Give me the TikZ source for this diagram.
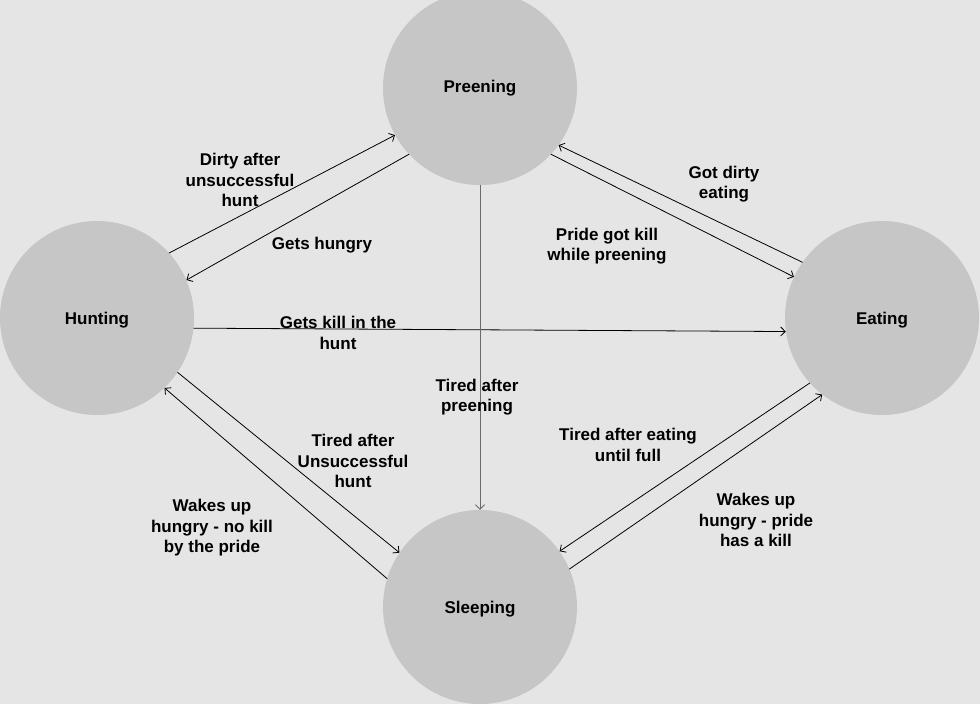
\documentclass[tikz,border=0pt]{standalone}
\usepackage{fontspec}
\setmainfont{Liberation Sans}
\usepackage{xcolor}
\usetikzlibrary{arrows.meta}
\definecolor{back_grey}{HTML}{E5E5E5}
\definecolor{state_grey}{HTML}{C6C6C6}
\definecolor{line_grey}{HTML}{6A6A6A}

\begin{document}
\begin{tikzpicture}[
            x=1pt,
            y=-1pt,
            line cap=round,
            line join=round,
            state/.style={circle, fill=state_grey, minimum size=194pt, inner sep=0pt,
                font=\bfseries\fontsize{17}{20.5}\selectfont},
            lbl/.style={align=center, inner sep=0pt, font=\bfseries\fontsize{17}{20.5}\selectfont},
            trans/.style={-{Straight Barb[length=4.5pt,width=9pt]}, line width=0.8pt}
        ]
            % Background
            \fill[back_grey] (0,0) rectangle (980,704);
            \useasboundingbox (0,0) rectangle (980,704);
            \clip (0,0) rectangle (980,704);

            % Draw the four states
            \node[state] (preening) at (480,88) {};
            \node[state] (hunting) at (97,318) {};
            \node[state] (eating) at (882,318) {};
            \node[state] (sleeping) at (480,607) {};
            \node[lbl] (preeningtext) at (480,88) {Preening};
            \node[lbl] (huntingtext) at (97,320) {Hunting};
            \node[lbl] (eatingtext) at (882,320) {Eating};
            \node[lbl] (sleepingtext) at (480,609) {Sleeping};

            % Transitions between hunting and preening
            \draw[trans] (hunting.42) -- (preening.209);
            \draw[trans] (preening.223) -- (hunting.23);
            \node[lbl] (dirty) at (240,180) {Dirty after\\unsuccessful\\hunt};
            \node[lbl] (hungry) at (322,245) {Gets hungry};

            % Transitions between preening and eating
            \draw[trans] (preening.-43) -- (eating.155);
            \draw[trans] (eating.145) -- (preening.-36);
            \node[lbl] (gotdirty) at (724,184) {Got dirty\\eating};
            \node[lbl] (pridekill) at (607,246) {Pride got kill\\while preening};

            % Hunting to eating, preening to sleeping
            \draw[trans] (hunting.-6) -- (eating.188);
            \draw[trans, line_grey] (preening.south) -- (sleeping.north);
            \node[lbl] (getskill) at (338,333) {Gets kill in the\\hunt};
            \node[lbl] (tiredpreen) at (477,397) {Tired after\\preening};

            % Transitions between hunting and sleeping
            \draw[trans] (hunting.-34) -- (sleeping.146);
            \draw[trans] (sleeping.163) -- (hunting.-46);
            \node[lbl] (tiredhunt) at (353,461) {Tired after\\Unsuccessful\\hunt};
            \node[lbl] (wakesnokill) at (212,528) {Wakes up\\hungry - no kill\\by the pride};

            % Transitions between eating and sleeping
            \draw[trans] (eating.222) -- (sleeping.35);
            \draw[trans] (sleeping.23) -- (eating.232);
            \node[lbl] (tiredeat) at (628,445) {Tired after eating\\until full};
            \node[lbl] (wakeskill) at (756,520) {Wakes up\\hungry - pride\\has a kill};
        \end{tikzpicture}
\end{document}
